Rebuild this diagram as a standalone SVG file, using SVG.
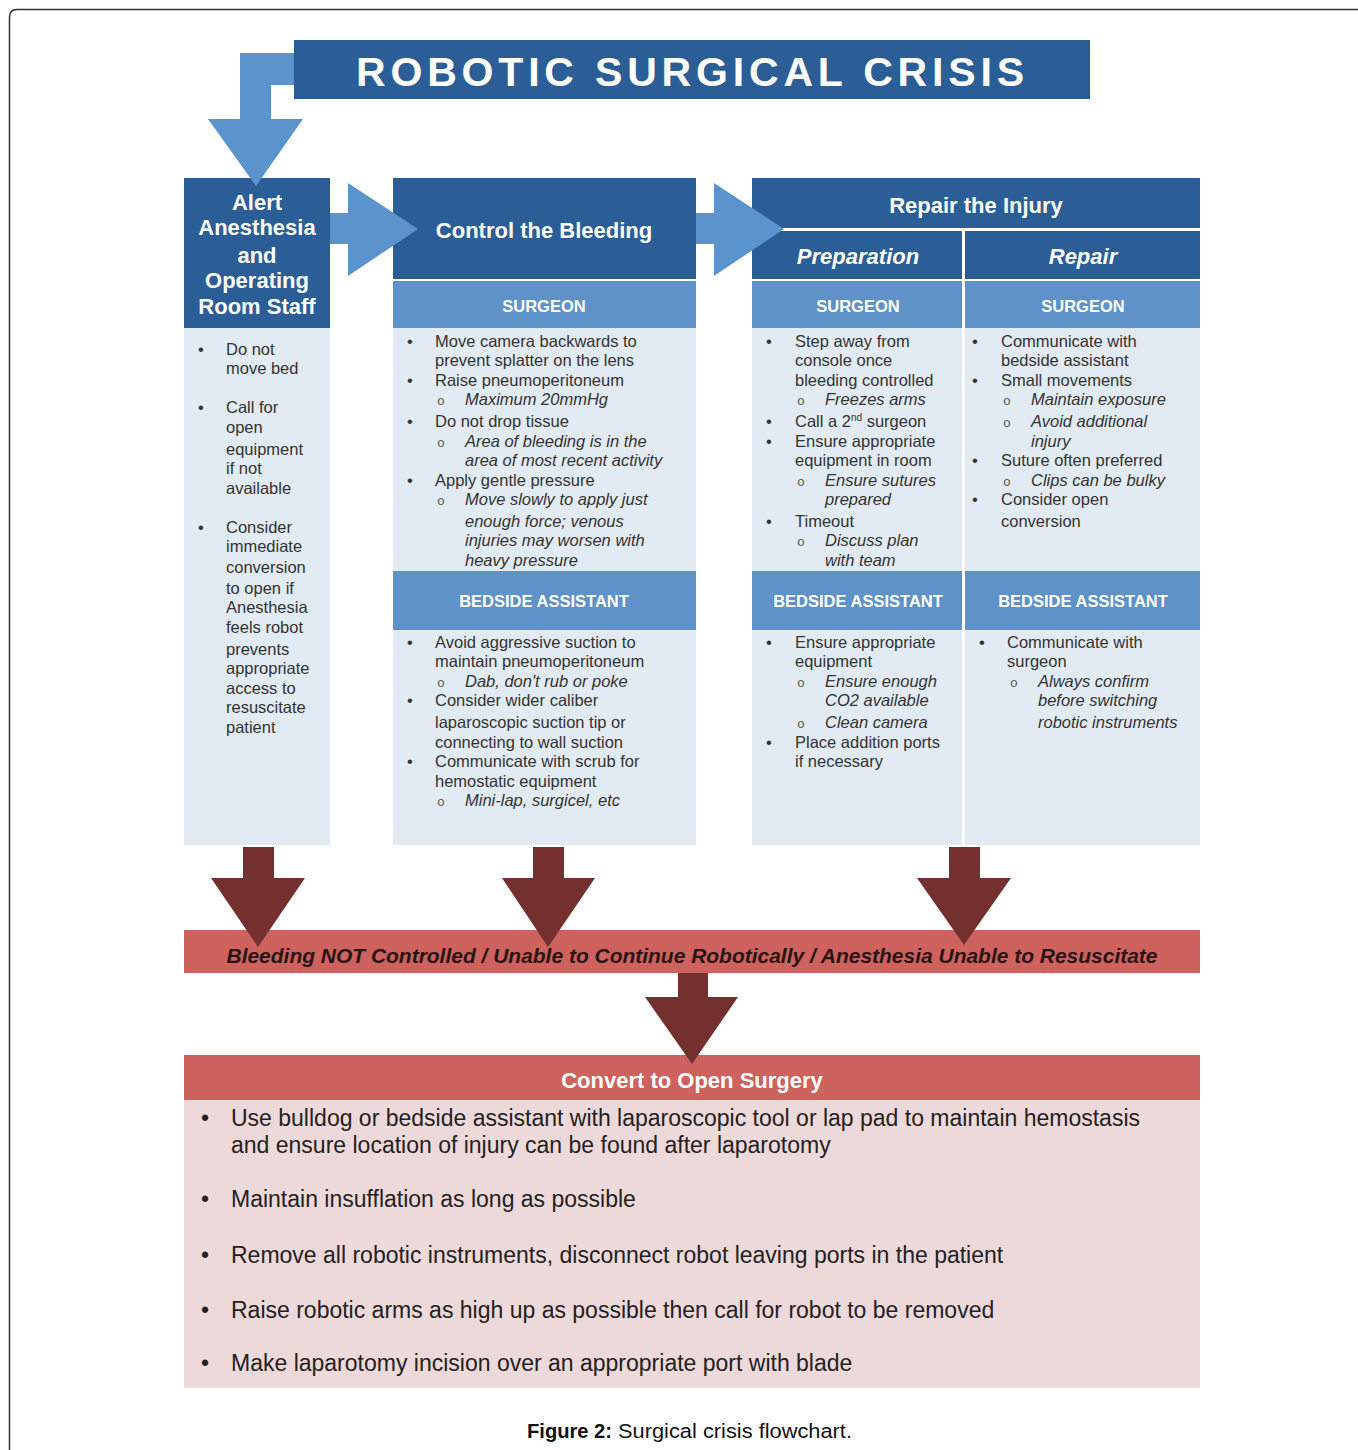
<svg xmlns="http://www.w3.org/2000/svg" width="1358" height="1450" viewBox="0 0 1358 1450">
<style>
.dk{fill:#2B5E96}
.md{fill:#5E92C9}
.lt{fill:#E2EAF4}
.la{fill:#5B93CD}
.ra{fill:#74302E}
.rb{fill:#CD625E}
.pk{fill:#EED9DA}
text{font-family:"Liberation Sans",Arial,Helvetica,sans-serif}
.h{fill:#fff;font-weight:bold;font-size:22px;text-anchor:middle}
.sh{fill:#fff;font-weight:bold;font-size:16.5px;text-anchor:middle}
.t{fill:#333;font-size:16.5px}
.it{font-style:italic}
.o{font-family:"Liberation Mono","Courier New",monospace;font-size:13px;fill:#555}
.bt{fill:#222;font-size:23px}
</style>
<rect width="1358" height="1450" fill="#fff"/>
<path d="M9.5 1450 V17 Q9.5 9.5 17 9.5 H1358" fill="none" stroke="#333" stroke-width="1.5"/>

<g id="title">
<rect class="dk" x="294" y="40" width="796" height="59"/>
<text x="690" y="86" fill="#fff" font-weight="bold" font-size="41" text-anchor="middle" textLength="668" lengthAdjust="spacing">ROBOTIC SURGICAL CRISIS</text>
</g>

<g id="alert">
<rect class="dk" x="184" y="178" width="146" height="150"/>
<rect class="lt" x="184" y="328" width="146" height="517"/>
<text class="h"><tspan x="257" y="210">Alert</tspan><tspan x="257" y="235">Anesthesia</tspan><tspan x="257" y="263">and</tspan><tspan x="257" y="288">Operating</tspan><tspan x="257" y="314">Room Staff</tspan></text>
<g class="t">
<text x="198" y="355">•</text><text x="226" y="355">Do not</text><text x="226" y="374">move bed</text>
<text x="198" y="413">•</text><text x="226" y="413">Call for</text><text x="226" y="433">open</text><text x="226" y="455">equipment</text><text x="226" y="474">if not</text><text x="226" y="494">available</text>
<text x="198" y="533">•</text><text x="226" y="533">Consider</text><text x="226" y="552">immediate</text><text x="226" y="573">conversion</text><text x="226" y="594">to open if</text><text x="226" y="613">Anesthesia</text><text x="226" y="633">feels robot</text><text x="226" y="655">prevents</text><text x="226" y="674">appropriate</text><text x="226" y="694">access to</text><text x="226" y="713">resuscitate</text><text x="226" y="733">patient</text>
</g>
</g>

<g id="control">
<rect class="dk" x="393" y="178" width="303" height="101"/>
<rect class="md" x="393" y="281" width="303" height="47"/>
<rect class="lt" x="393" y="328" width="303" height="243"/>
<rect class="md" x="393" y="571" width="303" height="59"/>
<rect class="lt" x="393" y="630" width="303" height="215"/>
<text class="h" x="544" y="238">Control the Bleeding</text>
<text class="sh" x="544" y="312">SURGEON</text>
<text class="sh" x="544" y="607">BEDSIDE ASSISTANT</text>
<g class="t">
<text x="407" y="347">•</text><text x="435" y="347">Move camera backwards to</text><text x="435" y="366">prevent splatter on the lens</text>
<text x="407" y="386">•</text><text x="435" y="386">Raise pneumoperitoneum</text>
<text class="o" x="437" y="405">o</text><text class="it" x="465" y="405">Maximum 20mmHg</text>
<text x="407" y="427">•</text><text x="435" y="427">Do not drop tissue</text>
<text class="o" x="437" y="447">o</text><text class="it" x="465" y="447">Area of bleeding is in the</text><text class="it" x="465" y="466">area of most recent activity</text>
<text x="407" y="486">•</text><text x="435" y="486">Apply gentle pressure</text>
<text class="o" x="437" y="505">o</text><text class="it" x="465" y="505">Move slowly to apply just</text><text class="it" x="465" y="527">enough force; venous</text><text class="it" x="465" y="546">injuries may worsen with</text><text class="it" x="465" y="566">heavy pressure</text>
<text x="407" y="648">•</text><text x="435" y="648">Avoid aggressive suction to</text><text x="435" y="667">maintain pneumoperitoneum</text>
<text class="o" x="437" y="687">o</text><text class="it" x="465" y="687">Dab, don't rub or poke</text>
<text x="407" y="706">•</text><text x="435" y="706">Consider wider caliber</text><text x="435" y="728">laparoscopic suction tip or</text><text x="435" y="748">connecting to wall suction</text>
<text x="407" y="767">•</text><text x="435" y="767">Communicate with scrub for</text><text x="435" y="787">hemostatic equipment</text>
<text class="o" x="437" y="806">o</text><text class="it" x="465" y="806">Mini-lap, surgicel, etc</text>
</g>
</g>

<g id="repair">
<rect class="dk" x="752" y="178" width="448" height="50"/>
<rect class="dk" x="752" y="231" width="210" height="48"/>
<rect class="dk" x="965" y="231" width="235" height="48"/>
<rect class="md" x="752" y="281" width="210" height="47"/>
<rect class="md" x="965" y="281" width="235" height="47"/>
<rect class="lt" x="752" y="328" width="210" height="243"/>
<rect class="lt" x="965" y="328" width="235" height="243"/>
<rect class="md" x="752" y="571" width="210" height="59"/>
<rect class="md" x="965" y="571" width="235" height="59"/>
<rect class="lt" x="752" y="630" width="210" height="215"/>
<rect class="lt" x="965" y="630" width="235" height="215"/>
<text class="h" x="976" y="213">Repair the Injury</text>
<text class="h it" x="858" y="264">Preparation</text>
<text class="h it" x="1083" y="264">Repair</text>
<text class="sh" x="858" y="312">SURGEON</text>
<text class="sh" x="1083" y="312">SURGEON</text>
<text class="sh" x="858" y="607">BEDSIDE ASSISTANT</text>
<text class="sh" x="1083" y="607">BEDSIDE ASSISTANT</text>
<g class="t">
<text x="766" y="347">•</text><text x="795" y="347">Step away from</text><text x="795" y="366">console once</text><text x="795" y="386">bleeding controlled</text>
<text class="o" x="797" y="405">o</text><text class="it" x="825" y="405">Freezes arms</text>
<text x="766" y="427">•</text><text x="795" y="427">Call a 2<tspan font-size="10" dy="-6">nd</tspan><tspan dy="6"> surgeon</tspan></text>
<text x="766" y="447">•</text><text x="795" y="447">Ensure appropriate</text><text x="795" y="466">equipment in room</text>
<text class="o" x="797" y="486">o</text><text class="it" x="825" y="486">Ensure sutures</text><text class="it" x="825" y="505">prepared</text>
<text x="766" y="527">•</text><text x="795" y="527">Timeout</text>
<text class="o" x="797" y="546">o</text><text class="it" x="825" y="546">Discuss plan</text><text class="it" x="825" y="566">with team</text>

<text x="972" y="347">•</text><text x="1001" y="347">Communicate with</text><text x="1001" y="366">bedside assistant</text>
<text x="972" y="386">•</text><text x="1001" y="386">Small movements</text>
<text class="o" x="1003" y="405">o</text><text class="it" x="1031" y="405">Maintain exposure</text>
<text class="o" x="1003" y="427">o</text><text class="it" x="1031" y="427">Avoid additional</text><text class="it" x="1031" y="447">injury</text>
<text x="972" y="466">•</text><text x="1001" y="466">Suture often preferred</text>
<text class="o" x="1003" y="486">o</text><text class="it" x="1031" y="486">Clips can be bulky</text>
<text x="972" y="505">•</text><text x="1001" y="505">Consider open</text><text x="1001" y="527">conversion</text>

<text x="766" y="648">•</text><text x="795" y="648">Ensure appropriate</text><text x="795" y="667">equipment</text>
<text class="o" x="797" y="687">o</text><text class="it" x="825" y="687">Ensure enough</text><text class="it" x="825" y="706">CO2 available</text>
<text class="o" x="797" y="728">o</text><text class="it" x="825" y="728">Clean camera</text>
<text x="766" y="748">•</text><text x="795" y="748">Place addition ports</text><text x="795" y="767">if necessary</text>

<text x="979" y="648">•</text><text x="1007" y="648">Communicate with</text><text x="1007" y="667">surgeon</text>
<text class="o" x="1010" y="687">o</text><text class="it" x="1038" y="687">Always confirm</text><text class="it" x="1038" y="706">before switching</text><text class="it" x="1038" y="728">robotic instruments</text>
</g>
</g>

<g id="not-controlled">
<rect class="rb" x="184" y="930" width="1016" height="43"/>
<text x="692" y="963" fill="#2a1414" font-weight="bold" font-style="italic" font-size="19.5" text-anchor="middle" textLength="931" lengthAdjust="spacingAndGlyphs">Bleeding NOT Controlled / Unable to Continue Robotically / Anesthesia Unable to Resuscitate</text>
</g>

<g id="convert">
<rect class="rb" x="184" y="1055" width="1016" height="45"/>
<rect class="pk" x="184" y="1100" width="1016" height="288"/>
<text class="h" x="692" y="1088">Convert to Open Surgery</text>
<g class="bt">
<text x="201" y="1126">•</text><text x="231" y="1126">Use bulldog or bedside assistant with laparoscopic tool or lap pad to maintain hemostasis</text>
<text x="231" y="1153">and ensure location of injury can be found after laparotomy</text>
<text x="201" y="1207">•</text><text x="231" y="1207">Maintain insufflation as long as possible</text>
<text x="201" y="1263">•</text><text x="231" y="1263">Remove all robotic instruments, disconnect robot leaving ports in the patient</text>
<text x="201" y="1318">•</text><text x="231" y="1318">Raise robotic arms as high up as possible then call for robot to be removed</text>
<text x="201" y="1371">•</text><text x="231" y="1371">Make laparotomy incision over an appropriate port with blade</text>
</g>
</g>

<g id="connectors">
<path class="la" d="M294 53 H240 V119 H208 L256 186 L303 119 H271 V85 H294 Z"/>
<path class="la" d="M330 213 H348 V183 L418 229 L348 276 V244 H330 Z"/>
<path class="la" d="M696 213 H714 V183 L784 229 L714 276 V244 H696 Z"/>
<path class="ra" d="M243 847 H274 V878 H305 L258 947 L211 878 H243 Z"/>
<path class="ra" d="M533 847 H564 V878 H595 L548 947 L502 878 H533 Z"/>
<path class="ra" d="M949 847 H980 V878 H1011 L964 945 L917 878 H949 Z"/>
<path class="ra" d="M678 973 H708 V997 H738 L692 1064 L645 997 H678 Z"/>
</g>

<g id="caption">
<text x="527" y="1438" font-family="'Open Sans',sans-serif" font-weight="bold" font-size="20" fill="#111" textLength="85" lengthAdjust="spacingAndGlyphs">Figure 2:</text>
<text x="618" y="1438" font-family="'Open Sans',sans-serif" font-size="20" fill="#111" textLength="234" lengthAdjust="spacingAndGlyphs">Surgical crisis flowchart.</text>
</g>
</svg>
